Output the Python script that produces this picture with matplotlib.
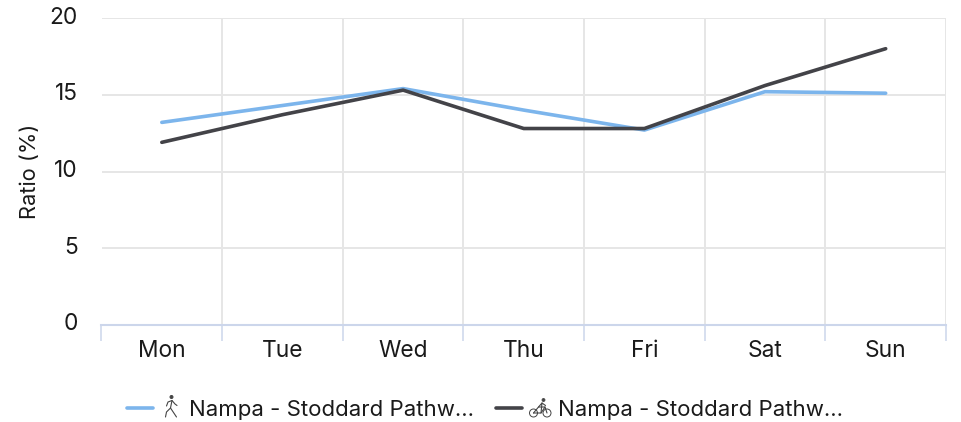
import matplotlib
matplotlib.use("Agg")
import matplotlib.pyplot as plt
from matplotlib.lines import Line2D
from matplotlib.patches import Circle
from matplotlib.transforms import ScaledTranslation

plt.rcParams['font.family'] = ['Inter', 'DejaVu Sans']

# Data
DAYS = ["Mon", "Tue", "Wed", "Thu", "Fri", "Sat", "Sun"]
WALK_RATIO = [13.2, 14.3, 15.4, 14.0, 12.7, 15.2, 15.1]
BIKE_RATIO = [11.9, 13.7, 15.3, 12.8, 12.8, 15.6, 18.0]
Y_TICKS = [0, 5, 10, 15, 20]
LEGEND_LABEL = "Nampa - Stoddard Pathw..."

# Style
WIDTH, HEIGHT = 961, 422
BLUE = "#7cb5ec"
DARK = "#434348"
GRID = "#e6e6e6"
AXIS = "#ccd6eb"
TEXT = "#1a1a1a"
ICON = "#444444"
TICK_SIZE = 16.4
LEGEND_SIZE = 16.0
LINE_W = 2.6

fig = plt.figure(figsize=(WIDTH / 100, HEIGHT / 100), dpi=100)
ax = fig.add_axes([101.5 / WIDTH, 1 - 325 / HEIGHT, 844.5 / WIDTH, 307 / HEIGHT])

x_index = list(range(len(DAYS)))
ax.plot(x_index, WALK_RATIO, color=BLUE, lw=LINE_W, solid_capstyle='round', zorder=3, clip_on=False)
ax.plot(x_index, BIKE_RATIO, color=DARK, lw=LINE_W, solid_capstyle='round', zorder=4, clip_on=False)

ax.set_xlim(-0.5, 6.5)
ax.set_ylim(0, 20)
ax.set_xticks(x_index)
ax.set_xticklabels(DAYS, fontsize=TICK_SIZE, color=TEXT)
ax.set_xticks([i - 0.5 for i in range(len(DAYS) + 1)], minor=True)
ax.set_yticks(Y_TICKS)
ax.set_yticklabels([str(v) for v in Y_TICKS], fontsize=TICK_SIZE, color=TEXT)

ax.tick_params(axis='x', which='major', length=0, pad=11)
ax.tick_params(axis='x', which='minor', length=11.5, width=1.1, color=AXIS)
ax.tick_params(axis='y', length=0, pad=17)
ax.grid(True, axis='y', which='major', color=GRID, lw=1.4)
ax.grid(True, axis='x', which='minor', color=GRID, lw=1.4)
ax.set_axisbelow(True)

for name in ['top', 'right', 'left']:
    ax.spines[name].set_visible(False)
ax.spines['bottom'].set_color(AXIS)
ax.spines['bottom'].set_linewidth(1.5)

# y labels sit a little above their grid line
shift = ScaledTranslation(0, 3 / 100, fig.dpi_scale_trans)
for label in ax.get_yticklabels():
    label.set_transform(label.get_transform() + shift)

fig.text(30.5 / WIDTH, 1 - 171 / HEIGHT, "Ratio (%)", rotation=90, ha='center', va='center',
         fontsize=15.7, color=TEXT)


# Legend, placed in pixels from the top left corner
def px_line(xs, ys, color=ICON, lw=0.8):
    fig.add_artist(Line2D([x / WIDTH for x in xs], [1 - y / HEIGHT for y in ys], color=color, lw=lw,
                          transform=fig.transFigure, solid_capstyle='round'))


def px_circle(x, y, r, filled=False):
    fig.add_artist(Circle((x, HEIGHT - y), r, transform=None, fill=filled, edgecolor=ICON,
                          facecolor=ICON, lw=0.7))


px_line([127, 153], [408, 408], BLUE, LINE_W)
px_line([496, 522], [408, 408], DARK, LINE_W)

# walking person
px_circle(171.5, 397, 1.5, True)
px_line([172, 170.5, 166.5, 165.5], [400.5, 408, 412, 417])
px_line([170.5, 172.5, 176.5], [408, 411, 417])
px_line([166.5, 168, 172, 175, 177], [406, 402, 400.5, 404, 405.5])

# bicycle
px_circle(533.5, 413, 4)
px_circle(547, 413, 4)
px_circle(543.5, 400, 1.4, True)
px_line([533.5, 538.5, 545, 547], [413, 407, 407, 413])
px_line([533.5, 541, 545], [413, 413, 407])
px_line([538.5, 542, 541], [407, 403, 413])
px_line([542, 545.5], [403, 405.5])

fig.text(189 / WIDTH, 1 - 408 / HEIGHT, LEGEND_LABEL, ha='left', va='center_baseline', fontsize=LEGEND_SIZE, color=TEXT)
fig.text(558 / WIDTH, 1 - 408 / HEIGHT, LEGEND_LABEL, ha='left', va='center_baseline', fontsize=LEGEND_SIZE, color=TEXT)

fig.savefig("out.png", dpi=100)
